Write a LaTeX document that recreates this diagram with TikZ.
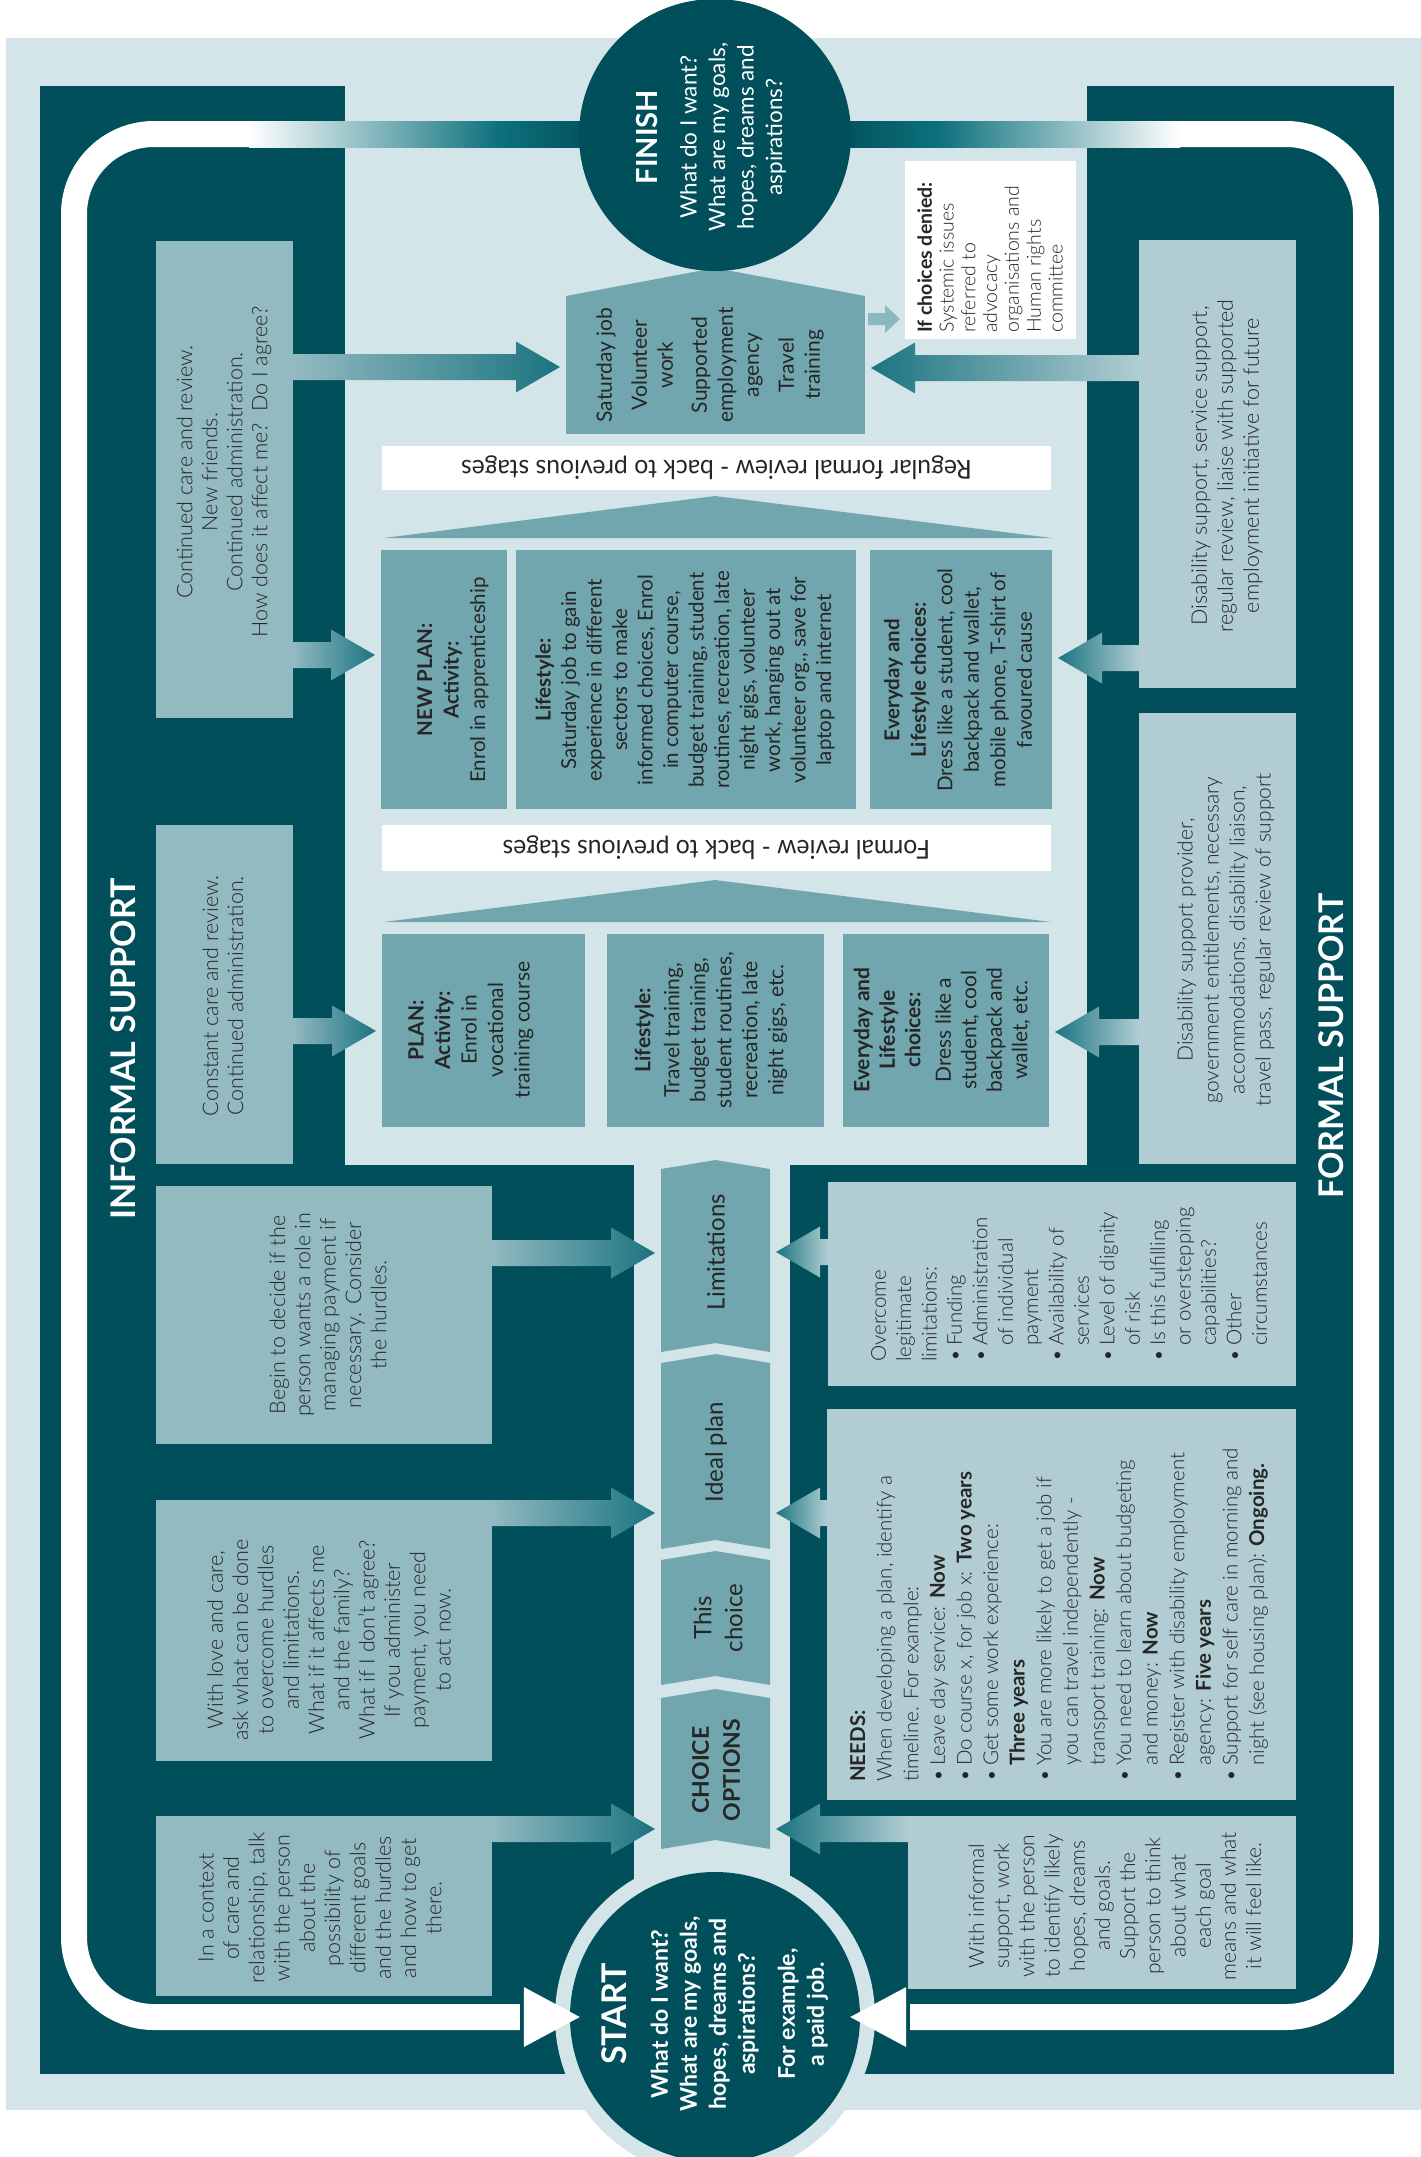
\documentclass[tikz,border=0pt]{standalone}
\usepackage{fontspec}
\setmainfont{Lato Light}[BoldFont={Lato Bold}]
\newfontfamily\regfont{Lato}
\newfontfamily\barfont{Lato}[FakeStretch=0.95]
\usetikzlibrary{calc}

\definecolor{darkteal}{HTML}{004F5A}
\definecolor{lightbg}{HTML}{D4E5E9}
\definecolor{infcol}{HTML}{93B9C1}
\definecolor{formcol}{HTML}{B1CDD3}
\definecolor{midteal}{HTML}{71A6AF}
\definecolor{tipteal}{HTML}{1B7480}
\definecolor{bandteal}{HTML}{0D717C}
\definecolor{txtc}{HTML}{262626}
\definecolor{smallarr}{HTML}{8CB9C0}

\newcommand{\fs}[2]{\fontsize{#1}{#2}\selectfont}
\newcommand{\bulmark}{\makebox[0.78em][l]{\textbullet}}
\newcommand{\bulind}{\hspace*{0.78em}}

% block arrow pointing right: from the east side of #1 to the west side of #2 at height #3
\newcommand{\blockR}[4]{%
  \shade[left color=#4, right color=tipteal] let \p1=(#1.east), \p2=(#2.west), \p3=(0,#3) in
    (\x1,\y3+13pt) -- (\x2-50pt,\y3+13pt) -- (\x2-50pt,\y3+25.5pt) -- (\x2-6pt,\y3)
    -- (\x2-50pt,\y3-25.5pt) -- (\x2-50pt,\y3-13pt) -- (\x1,\y3-13pt) -- cycle;}
% block arrow pointing left: from the west side of #1 to the east side of #2 at height #3
\newcommand{\blockL}[4]{%
  \shade[left color=tipteal, right color=#4] let \p1=(#1.west), \p2=(#2.east), \p3=(0,#3) in
    (\x1,\y3+13pt) -- (\x2+50pt,\y3+13pt) -- (\x2+50pt,\y3+25.5pt) -- (\x2+6pt,\y3)
    -- (\x2+50pt,\y3-25.5pt) -- (\x2+50pt,\y3-13pt) -- (\x1,\y3-13pt) -- cycle;}
% chevron-shaped stage in the central column
\newcommand{\chevronfill}[1]{%
  \fill[midteal] (#1.north west) -- ($(#1.north)+(0,9pt)$) -- (#1.north east)
    -- (#1.south east) -- ($(#1.south)+(0,9pt)$) -- (#1.south west) -- cycle;}

\tikzset{
  panel/.style={inner sep=0pt, outer sep=0pt, anchor=north west, draw=none},
  rtxt/.style={rotate=90, inner sep=0pt, align=center, text=txtc},
  wtxt/.style={rotate=90, inner sep=0pt, align=center, text=white},
}

\begin{document}
\begin{tikzpicture}[x=1pt,y=-1pt]
\useasboundingbox (0,0) rectangle (1421,2157);

% background and dark frame
\fill[lightbg] (6,38) rectangle (1421,2110);
\fill[darkteal] (40,86) rectangle (345,2074);
\fill[darkteal] (1087,86) rectangle (1394,2074);
\fill[darkteal] (345,1165) rectangle (634,2074);
\fill[darkteal] (790,1165) rectangle (1087,2074);

% start circle with its light ring
\node[circle, fill=lightbg, minimum size=320pt, inner sep=0pt] (startring) at (715,2017) {};
\node[circle, fill=darkteal, minimum size=290pt, inner sep=0pt] (start) at (715,2017) {};

% loop arrows from finish back to start
\coordinate (lloop) at (249,134);
\coordinate (rloop) at (1180,134);
\shade[left color=white, right color=bandteal] (249,121) rectangle (498,147);
\shade[left color=bandteal, right color=darkteal] (497,121) rectangle (600,147);
\shade[left color=darkteal, right color=bandteal] (830,121) rectangle (940,147);
\shade[left color=bandteal, right color=white] (939,121) rectangle (1180,147);
\draw[white, line width=26pt, rounded corners=80pt] (lloop) -- (74,134) -- (74,2017) -- ($(start.west)+(-50pt,0)$);
\fill[white] ($(start.west)+(-46pt,30pt)$) -- ($(start.west)+(10pt,0)$) -- ($(start.west)+(-46pt,-30pt)$) -- cycle;
\draw[white, line width=26pt, rounded corners=80pt] (rloop) -- (1366,134) -- (1366,2017) -- ($(start.east)+(50pt,0)$);
\fill[white] ($(start.east)+(46pt,30pt)$) -- ($(start.east)+(-10pt,0)$) -- ($(start.east)+(46pt,-30pt)$) -- cycle;

% informal support boxes
\node[panel, fill=infcol, minimum width=137pt, minimum height=477pt] (inf1) at (156,241) {};
\node[panel, fill=infcol, minimum width=137pt, minimum height=339pt] (inf2) at (156,825) {};
\node[panel, fill=infcol, minimum width=336pt, minimum height=258pt] (inf3) at (156,1186) {};
\node[panel, fill=infcol, minimum width=336pt, minimum height=261pt] (inf4) at (156,1500) {};
\node[panel, fill=infcol, minimum width=336pt, minimum height=180pt] (inf5) at (156,1816) {};

% formal support boxes
\node[panel, fill=formcol, minimum width=157pt, minimum height=448pt] (fr1) at (1139,240) {};
\node[panel, fill=formcol, minimum width=157pt, minimum height=451pt] (fr2) at (1139,713) {};
\node[panel, fill=formcol, minimum width=468pt, minimum height=204pt] (fr3) at (828,1182) {};
\node[panel, fill=formcol, minimum width=469pt, minimum height=391pt] (fr4) at (827,1409) {};
\node[panel, fill=formcol, minimum width=388pt, minimum height=173pt] (fr5) at (908,1816) {};

% outcome, review bars and plans
\node[panel, fill=midteal, minimum width=299pt, minimum height=138pt] (sat) at (566,296) {};
\fill[midteal] (sat.north west) -- (715,268) -- (sat.north east) -- cycle;
\node[panel, fill=white, minimum width=171pt, minimum height=178pt] (denied) at (905,161) {};
\node[panel, fill=white, minimum width=669pt, minimum height=44pt] (bar1) at (382,446) {};
\fill[midteal] (384,538) -- (715,496) -- (1052,538) -- cycle;
\node[panel, fill=midteal, minimum width=126pt, minimum height=259pt] (np1) at (381,550) {};
\node[panel, fill=midteal, minimum width=340pt, minimum height=259pt] (np2) at (516,550) {};
\node[panel, fill=midteal, minimum width=182pt, minimum height=259pt] (np3) at (870,550) {};
\node[panel, fill=white, minimum width=669pt, minimum height=46pt] (bar2) at (382,825) {};
\fill[midteal] (384,922) -- (715,880) -- (1051,922) -- cycle;
\node[panel, fill=midteal, minimum width=203pt, minimum height=193pt] (p1) at (382,934) {};
\node[panel, fill=midteal, minimum width=217pt, minimum height=193pt] (p2) at (607,934) {};
\node[panel, fill=midteal, minimum width=206pt, minimum height=193pt] (p3) at (843,934) {};

% central column of stages
\node[panel, minimum width=109pt, minimum height=183pt] (lim) at (661,1169) {};
\node[panel, minimum width=109pt, minimum height=186pt] (ideal) at (661,1363) {};
\node[panel, minimum width=109pt, minimum height=125pt] (thisc) at (661,1560) {};
\node[panel, minimum width=109pt, minimum height=151pt] (opts) at (661,1698) {};
\chevronfill{lim}
\chevronfill{ideal}
\chevronfill{thisc}
\chevronfill{opts}

% block arrows
\blockR{inf1}{sat}{367}{infcol}
\blockL{fr1}{sat}{368}{formcol}
\blockR{inf1}{np1}{655}{infcol}
\blockL{fr1}{np3}{658}{formcol}
\blockR{inf2}{p1}{1031}{infcol}
\blockL{fr2}{p3}{1032}{formcol}
\blockR{inf3}{lim}{1253}{infcol}
\blockL{fr3}{lim}{1252}{formcol}
\blockR{inf4}{ideal}{1513}{infcol}
\blockL{fr4}{ideal}{1513}{formcol}
\blockR{inf5}{opts}{1829}{infcol}
\blockL{fr5}{opts}{1829}{formcol}
\fill[smallarr] let \p1=(sat.east), \p2=(denied.west), \p3=(0,319) in
  (\x1+3pt,\y3+6pt) -- (\x2-20pt,\y3+6pt) -- (\x2-20pt,\y3+14pt) -- (\x2-5pt,\y3)
  -- (\x2-20pt,\y3-14pt) -- (\x2-20pt,\y3-6pt) -- (\x1+3pt,\y3-6pt) -- cycle;

% finish circle
\node[circle, fill=darkteal, minimum size=272pt, inner sep=0pt] (finish) at (715,135) {};

% ---- texts ----
\node[wtxt, font=\regfont\fs{22.5}{28.5}] (finisht) at (711,137)
  {{\fs{29}{34}\bfseries FINISH}\\[11pt] What do I want?\\ What are my goals,\\ hopes, dreams and\\ aspirations?};
\node[wtxt, font=\bfseries\fs{23}{29}] (startt) at (715,2014)
  {{\fs{34}{40}START}\\[12pt] What do I want?\\ What are my goals,\\ hopes, dreams and\\ aspirations?\\[11pt] For example,\\ a paid job.};

\node[wtxt, font=\bfseries\fs{34}{40}] (inflabel) at (123,1049) {INFORMAL SUPPORT};
\node[wtxt, font=\bfseries\fs{34}{40}] (formlabel) at (1331,1046) {FORMAL SUPPORT};

\node[rtxt, font=\fs{21.5}{25}] (inf1t) at (224,472)
  {Continued care and review.\\ New friends.\\ Continued administration.\\ How does it affect me?\ \ Do I agree?};
\node[rtxt, font=\fs{21.5}{25}] (inf2t) at (223,996)
  {Constant care and review.\\ Continued administration.};
\node[rtxt, font=\fs{21.5}{25.3}] (inf3t) at (328,1315)
  {Begin to decide if the\\ person wants a role in\\ managing payment if\\ necessary. Consider\\ the hurdles.};
\node[rtxt, font=\fs{21.5}{25.3}] (inf4t) at (329,1640)
  {With love and care,\\ ask what can be done\\ to overcome hurdles\\ and limitations.\\ What if it affects me\\ and the family?\\ What if I don't agree?\\ If you administer\\ payment, you need\\ to act now.};
\node[rtxt, font=\fs{21.5}{25.3}] (inf5t) at (320,1908)
  {In a context\\ of care and\\ relationship, talk\\ with the person\\ about the\\ possibility of\\ different goals\\ and the hurdles\\ and how to get\\ there.};

\node[rtxt, font=\fs{21.5}{26}] (fr1t) at (1227,466)
  {Disability support, service support,\\ regular review, liaise with supported\\ employment initiative for future};
\node[rtxt, font=\fs{21}{26}] (fr2t) at (1226,940)
  {Disability support provider,\\ government entitlements, necessary\\ accommodations, disability liaison,\\ travel pass, regular review of support};
\node[rtxt, align=left, anchor=west, font=\fs{20.5}{25.4}] (fr3t) at (1069,1362)
  {Overcome\\ legitimate\\ limitations:\\ \bulmark Funding\\ \bulmark Administration\\ \bulind of individual\\ \bulind payment\\ \bulmark Availability of\\ \bulind services\\ \bulmark Level of dignity\\ \bulind of risk\\ \bulmark Is this fulfilling\\ \bulind or overstepping\\ \bulind capabilities?\\ \bulmark Other\\ \bulind circumstances};
\node[rtxt, align=left, anchor=west, font=\fs{20.5}{26.6}] (fr4t) at (1059,1782)
  {\textbf{NEEDS:}\\ When developing a plan, identify a\\ timeline. For example:\\ \bulmark Leave day service: \textbf{Now}\\ \bulmark Do course x, for job x: \textbf{Two years}\\ \bulmark Get some work experience:\\ \bulind\textbf{Three years}\\ \bulmark You are more likely to get a job if\\ \bulind you can travel independently -\\ \bulind transport training: \textbf{Now}\\ \bulmark You need to learn about budgeting\\ \bulind and money: \textbf{Now}\\ \bulmark Register with disability employment\\ \bulind agency: \textbf{Five years}\\ \bulmark Support for self care in morning and\\ \bulind night (see housing plan): \textbf{Ongoing.}};
\node[rtxt, font=\fs{21}{25.2}] (fr5t) at (1115,1906)
  {With informal\\ support, work\\ with the person\\ to identify likely\\ hopes, dreams\\ and goals.\\ Support the\\ person to think\\ about what\\ each goal\\ means and what\\ it will feel like.};

\node[rtxt, font=\regfont\fs{21}{26}] (satt) at (710,365)
  {Saturday job\\[9pt] Volunteer\\ work\\[8pt] Supported\\ employment\\ agency\\[9pt] Travel\\ training};
\node[rtxt, align=left, anchor=west, font=\fs{19.5}{21.8}] (deniedt) at (990,333)
  {\textbf{If choices denied:}\\ Systemic issues\\ referred to\\ advocacy\\ organisations and\\ Human rights\\ committee};

\node[rotate=180, inner sep=0pt, text=txtc, font=\barfont\fs{26}{30}] (bar1t) at (bar1.center)
  {Regular formal review - back to previous stages};
\node[rotate=180, inner sep=0pt, text=txtc, font=\barfont\fs{26}{30}] (bar2t) at (bar2.center)
  {Formal review - back to previous stages};

\node[rtxt, font=\regfont\fs{20.5}{26.5}] (np1t) at (453,680)
  {\textbf{NEW PLAN:}\\ \textbf{Activity:}\\ Enrol in apprenticeship};
\node[rtxt, font=\regfont\fs{20.5}{25.5}] (np2t) at (685,680)
  {\textbf{Lifestyle:}\\ Saturday job to gain\\ experience in different\\ sectors to make\\ informed choices, Enrol\\ in computer course,\\ budget training, student\\ routines, recreation, late\\ night gigs, volunteer\\ work, hanging out at\\ volunteer org., save for\\ laptop and internet};
\node[rtxt, font=\regfont\fs{20.5}{26.5}] (np3t) at (958,680)
  {\textbf{Everyday and}\\ \textbf{Lifestyle choices:}\\ Dress like a student, cool\\ backpack and wallet,\\ mobile phone, T-shirt of\\ favoured cause};

\node[rtxt, font=\regfont\fs{21}{26.5}] (p1t) at (471,1030)
  {\textbf{PLAN:}\\ \textbf{Activity:}\\ Enrol in\\ vocational\\ training course};
\node[rtxt, font=\regfont\fs{21}{26}] (p2t) at (711,1030)
  {\textbf{Lifestyle:}\\[3pt] Travel training,\\ budget training,\\ student routines,\\ recreation, late\\ night gigs, etc.};
\node[rtxt, font=\regfont\fs{21}{25.5}] (p3t) at (942,1030)
  {\textbf{Everyday and}\\ \textbf{Lifestyle}\\ \textbf{choices:}\\[5pt] Dress like a\\ student, cool\\ backpack and\\ wallet, etc.};

\node[rtxt, font=\regfont\fs{24}{30}] (limt) at (716,1252) {Limitations};
\node[rtxt, font=\regfont\fs{24}{30}] (idealt) at (716,1452) {Ideal plan};
\node[rtxt, font=\regfont\fs{24}{31}] (thist) at (718,1618) {This\\ choice};
\node[rtxt, font=\bfseries\fs{23}{31}] (optst) at (716,1770) {CHOICE\\ OPTIONS};

\end{tikzpicture}
\end{document}
